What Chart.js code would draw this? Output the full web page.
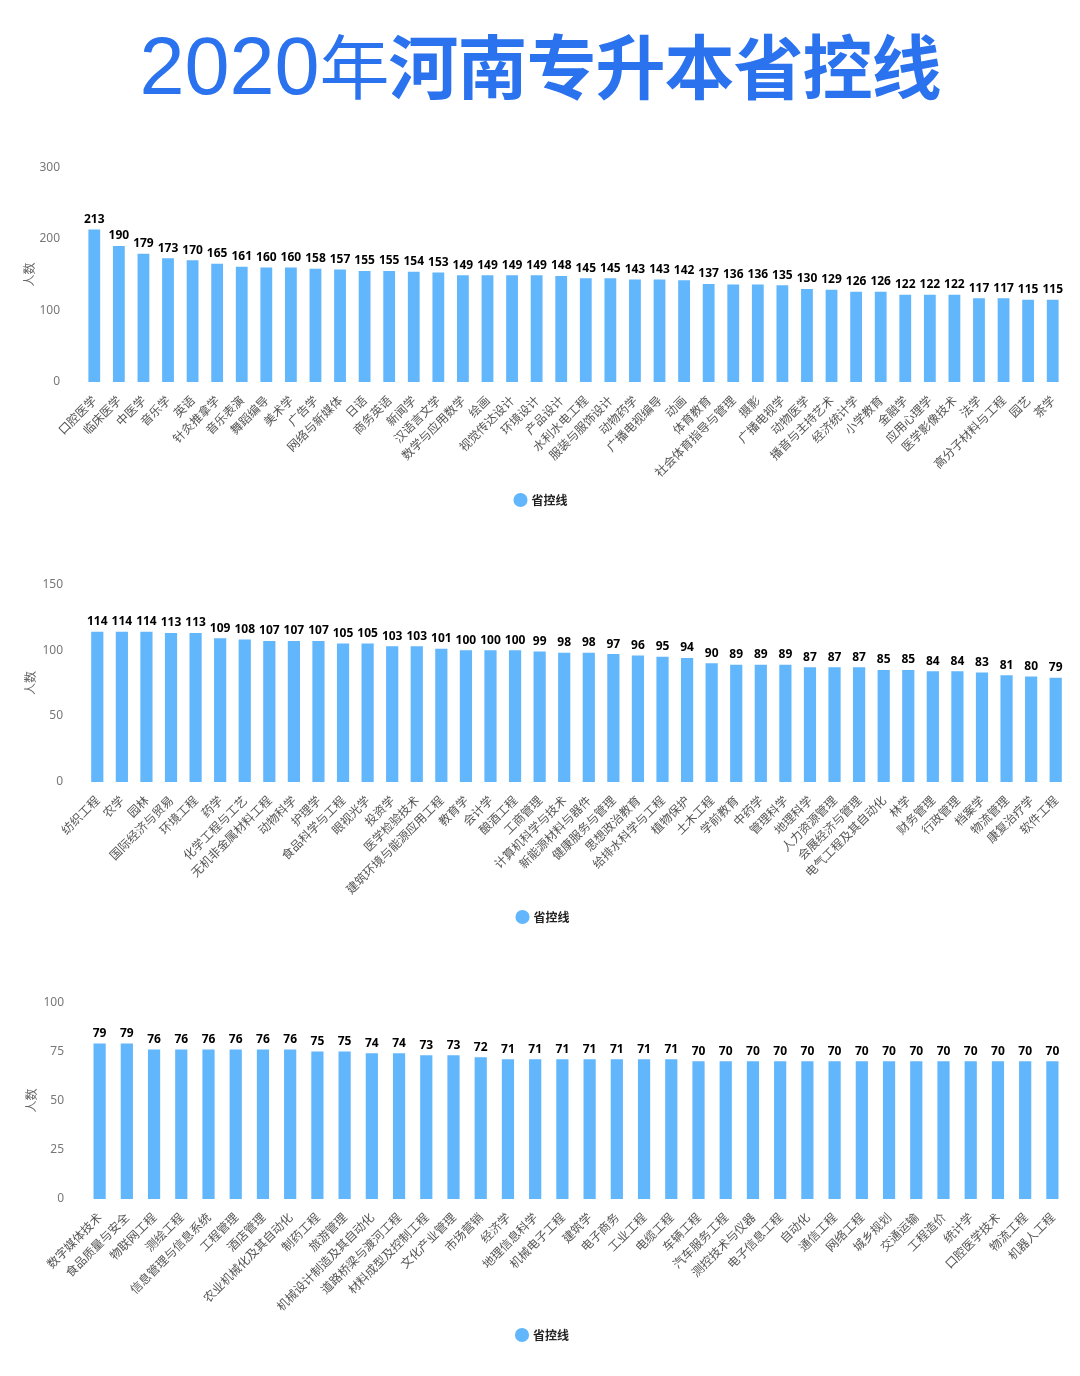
<!DOCTYPE html>
<html>
<head>
<meta charset="utf-8">
<script src="https://cdn.jsdelivr.net/npm/chart.js@4"></script>
<style>
  html, body { margin: 0; padding: 0; background: #fff; }
  body { width: 1080px; height: 1376px; position: relative; overflow: hidden; }
  #title {
    position: absolute; left: 0; top: 16px; width: 1080px; text-align: center;
    color: #2a72ee; white-space: nowrap; line-height: 96px;
  }
  #title .num { font-family: "Liberation Sans", Arial, sans-serif; font-size: 81px; font-weight: normal; }
  #title .cjk { font-family: "Noto Sans CJK SC", sans-serif; font-size: 70px; font-weight: bold; letter-spacing: -1px; }
  #title .cjk.thin { font-weight: normal; }
  canvas { position: absolute; left: 0; }
</style>
</head>
<body>
<div id="title"><span class="num">2020</span><span class="cjk thin">年</span><span class="cjk">河南专升本省控线</span></div>
<canvas id="c1" width="1080" height="370" style="top:146px"></canvas>
<canvas id="c2" width="1080" height="370" style="top:563px"></canvas>
<canvas id="c3" width="1080" height="370" style="top:981px"></canvas>
<script>
const SERIES_NAME = '省控线'
const Y_TITLE = '人数'

const majors1 = ['口腔医学', '临床医学', '中医学', '音乐学', '英语', '针灸推拿学', '音乐表演', '舞蹈编导', '美术学', '广告学',
  '网络与新媒体', '日语', '商务英语', '新闻学', '汉语言文学', '数学与应用数学', '绘画', '视觉传达设计', '环境设计', '产品设计',
  '水利水电工程', '服装与服饰设计', '动物药学', '广播电视编导', '动画', '体育教育', '社会体育指导与管理', '摄影', '广播电视学', '动物医学',
  '播音与主持艺术', '经济统计学', '小学教育', '金融学', '应用心理学', '医学影像技术', '法学', '高分子材料与工程', '园艺', '茶学']
const scores1 = [213, 190, 179, 173, 170, 165, 161, 160, 160, 158,
  157, 155, 155, 154, 153, 149, 149, 149, 149, 148,
  145, 145, 143, 143, 142, 137, 136, 136, 135, 130,
  129, 126, 126, 122, 122, 122, 117, 117, 115, 115]

const majors2 = ['纺织工程', '农学', '园林', '国际经济与贸易', '环境工程', '药学', '化学工程与工艺', '无机非金属材料工程', '动物科学', '护理学',
  '食品科学与工程', '眼视光学', '投资学', '医学检验技术', '建筑环境与能源应用工程', '教育学', '会计学', '酿酒工程', '工商管理', '计算机科学与技术',
  '新能源材料与器件', '健康服务与管理', '思想政治教育', '给排水科学与工程', '植物保护', '土木工程', '学前教育', '中药学', '管理科学', '地理科学',
  '人力资源管理', '会展经济与管理', '电气工程及其自动化', '林学', '财务管理', '行政管理', '档案学', '物流管理', '康复治疗学', '软件工程']
const scores2 = [114, 114, 114, 113, 113, 109, 108, 107, 107, 107,
  105, 105, 103, 103, 101, 100, 100, 100, 99, 98,
  98, 97, 96, 95, 94, 90, 89, 89, 89, 87,
  87, 87, 85, 85, 84, 84, 83, 81, 80, 79]

const majors3 = ['数字媒体技术', '食品质量与安全', '物联网工程', '测绘工程', '信息管理与信息系统', '工程管理', '酒店管理', '农业机械化及其自动化', '制药工程', '旅游管理',
  '机械设计制造及其自动化', '道路桥梁与渡河工程', '材料成型及控制工程', '文化产业管理', '市场营销', '经济学', '地理信息科学', '机械电子工程', '建筑学', '电子商务',
  '工业工程', '电缆工程', '车辆工程', '汽车服务工程', '测控技术与仪器', '电子信息工程', '自动化', '通信工程', '网络工程', '城乡规划',
  '交通运输', '工程造价', '统计学', '口腔医学技术', '物流工程', '机器人工程']
const scores3 = [79, 79, 76, 76, 76, 76, 76, 76, 75, 75,
  74, 74, 73, 73, 72, 71, 71, 71, 71, 71,
  71, 71, 70, 70, 70, 70, 70, 70, 70, 70,
  70, 70, 70, 70, 70, 70]

const BAR_COLOR = '#62b6fc'

// draws the number above each bar
const valueLabels = {
  id: 'valueLabels',
  afterDatasetsDraw(chart) {
    const ctx = chart.ctx
    const meta = chart.getDatasetMeta(0)
    const data = chart.data.datasets[0].data
    ctx.save()
    ctx.font = 'bold 12px "Noto Sans", sans-serif'
    ctx.fillStyle = '#000'
    ctx.textAlign = 'center'
    ctx.textBaseline = 'bottom'
    meta.data.forEach((bar, i) => {
      ctx.fillText(String(data[i]), bar.x, bar.y - 4)
    })
    ctx.restore()
  },
}

function makeChart(id, labels, values, opts) {
  return new Chart(document.getElementById(id), {
    type: 'bar',
    data: {
      labels,
      datasets: [{
        label: SERIES_NAME,
        data: values,
        backgroundColor: BAR_COLOR,
        borderWidth: 0,
        barPercentage: opts.barPct,
        categoryPercentage: 0.8,
      }],
    },
    options: {
      responsive: false,
      animation: false,
      devicePixelRatio: 1,
      layout: { padding: { top: 12, left: opts.padLeft, right: opts.padRight, bottom: 0 } },
      plugins: {
        tooltip: { enabled: false },
        legend: {
          position: 'bottom',
          labels: {
            usePointStyle: true,
            pointStyle: 'circle',
            boxWidth: 10,
            boxHeight: 10,
            color: '#222',
            font: { family: '"Noto Sans CJK SC", sans-serif', size: 12, weight: 'bold' },
          },
        },
      },
      scales: {
        x: {
          grid: { display: false },
          border: { display: false },
          ticks: {
            autoSkip: false,
            maxRotation: 45,
            minRotation: 45,
            color: '#555',
            font: { family: '"Noto Sans CJK SC", sans-serif', size: 12 },
          },
          afterFit: (s) => { s.height = opts.xHeight },
        },
        y: {
          min: 0,
          max: opts.max,
          grid: { display: false },
          border: { display: false },
          ticks: {
            stepSize: opts.step,
            color: '#777',
            padding: 14,
            font: { family: '"Noto Sans", sans-serif', size: 12 },
          },
          title: {
            display: true,
            text: Y_TITLE,
            color: '#666',
            font: { family: '"Noto Sans CJK SC", sans-serif', size: 12 },
          },
          afterFit: (s) => { s.width = opts.yWidth },
        },
      },
    },
    plugins: [valueLabels],
  })
}

makeChart('c1', majors1, scores1, { max: 300, step: 100, barPct: 0.6, xHeight: 102, yWidth: 64, padLeft: 18, padRight: 15 })
makeChart('c2', majors2, scores2, { max: 150, step: 50, barPct: 0.62, xHeight: 119, yWidth: 66, padLeft: 19, padRight: 12 })
makeChart('c3', majors3, scores3, { max: 100, step: 25, barPct: 0.56, xHeight: 120, yWidth: 66, padLeft: 20, padRight: 14 })
</script>
</body>
</html>
